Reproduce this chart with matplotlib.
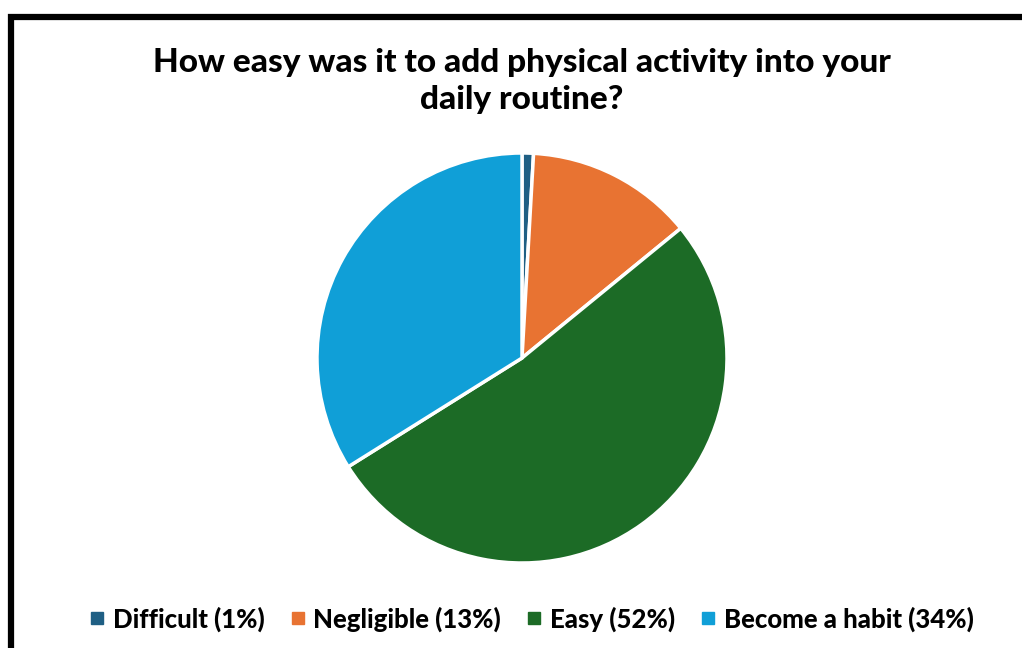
import matplotlib
matplotlib.use("Agg")
import matplotlib.pyplot as plt
from matplotlib.patches import Rectangle
from matplotlib.lines import Line2D

# data
labels = ["Difficult (1%)", "Negligible (13%)", "Easy (52%)", "Become a habit (34%)"]
shares = [0.9, 13.2, 52.0, 33.9]
colors = ["#1F5F84", "#E87332", "#1C6B26", "#109FD7"]
title = "How easy was it to add physical activity into your\ndaily routine?"

plt.rcParams['font.family'] = ['Lato', 'DejaVu Sans']

fig = plt.figure(figsize=(10.22, 6.48), dpi=100)

# frame that runs off the right and bottom edge
frame = Rectangle((10.5 / 1022, -0.1), 1.2, (648 - 17) / 648 + 0.1,
                  transform=fig.transFigure, fill=False, lw=4.5,
                  edgecolor="black", clip_on=False)
fig.patches.append(frame)

ax = fig.add_axes([(522 - 205) / 1022, (648 - 563) / 648,
                   410 / 1022, 410 / 648])
ax.pie(shares, colors=colors, startangle=90, counterclock=False,
       wedgeprops=dict(edgecolor="white", linewidth=2.5))
ax.set_xlim(-1.0, 1.0)
ax.set_ylim(-1.0, 1.0)
ax.set_aspect("equal")

fig.text(522 / 1022, 1 - 81 / 648, title, ha="center", va="center",
         fontsize=24, fontweight="black", linespacing=1.3)

handles = [Line2D([], [], marker="s", ls="", color=c, markersize=8) for c in colors]
fig.legend(handles, labels, loc="center", bbox_to_anchor=(529 / 1022, 1 - 619 / 648),
           ncol=4, frameon=False, prop=dict(weight="black", size=18.5),
           handletextpad=0.1, columnspacing=0.8, handlelength=1.0)

fig.savefig("out.png", dpi=100, facecolor="white")
